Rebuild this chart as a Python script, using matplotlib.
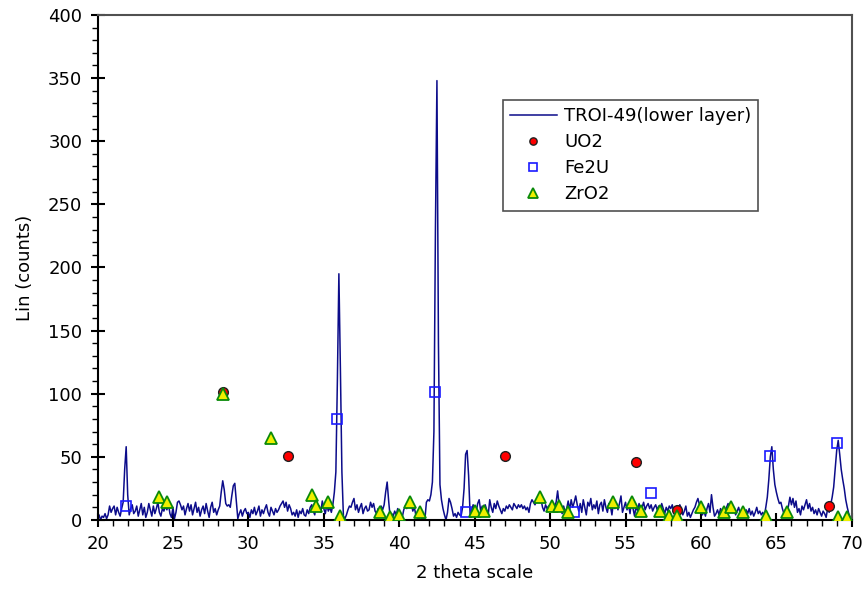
#!/usr/bin/env python3

import numpy as np
import matplotlib

matplotlib.use('Agg')
import matplotlib.pyplot as plt
from matplotlib.ticker import MultipleLocator


OUT_FILE = 'out.png'

# scan: 20.0 .. 70.0 deg in 0.1 deg steps, one row per degree
TWO_THETA_START = 20.0
TWO_THETA_STEP = 0.1
COUNTS = [
    1, 4, 0, 3, 2, 5, 1, 4, 11, 6,            # 20
    9, 11, 4, 10, 6, 3, 9, 14, 40, 58,        # 21
    20, 4, 9, 12, 5, 7, 11, 3, 8, 13,         # 22
    4, 10, 2, 6, 13, 8, 3, 11, 5, 9,          # 23
    14, 6, 3, 9, 7, 11, 8, 13, 5, 2,          # 24
    10, 1, 6, 14, 15, 12, 8, 11, 4, 9,        # 25
    13, 7, 12, 4, 9, 14, 6, 10, 3, 8,         # 26
    11, 5, 13, 7, 2, 10, 14, 6, 9, 4,         # 27
    8, 11, 22, 31, 24, 13, 11, 12, 10, 19,    # 28
    27, 29, 15, 1, 5, 8, 3, 7, 9, 5,          # 29
    6, 2, 8, 5, 10, 4, 7, 11, 3, 8,           # 30
    5, 9, 12, 6, 3, 10, 7, 4, 9, 6,           # 31
    8, 11, 13, 15, 10, 14, 7, 12, 9, 4,       # 32
    6, 3, 8, 2, 7, 5, 9, 4, 3, 8,             # 33
    5, 10, 12, 7, 4, 13, 8, 11, 6, 15,        # 34
    9, 5, 12, 7, 10, 6, 12, 22, 38, 110,      # 35
    195, 120, 38, 3, 1, 4, 8, 11, 10, 14,     # 36
    17, 8, 12, 6, 10, 13, 5, 9, 11, 7,        # 37
    8, 14, 10, 13, 7, 5, 9, 6, 11, 8,         # 38
    12, 22, 30, 15, 2, 5, 3, 7, 4, 9,         # 39
    3, 5, 2, 8, 11, 9, 12, 10, 13, 7,         # 40
    10, 4, 2, 0, 3, 1, 2, 0, 14, 16,          # 41
    15, 20, 30, 70, 230, 348, 140, 28, 16, 9,  # 42
    4, 0, 6, 17, 14, 9, 3, 5, 2, 6,           # 43
    4, 3, 10, 25, 52, 55, 35, 4, 8, 12,       # 44
    9, 6, 13, 16, 7, 11, 5, 12, 8, 4,         # 45
    16, 10, 6, 13, 9, 15, 11, 8, 5, 9,        # 46
    7, 11, 9, 12, 10, 8, 13, 11, 9, 12,       # 47
    10, 12, 9, 11, 8, 10, 6, 13, 16, 14,      # 48
    12, 15, 17, 19, 16, 10, 7, 12, 9, 11,     # 49
    10, 8, 12, 11, 14, 23, 12, 9, 5, 11,      # 50
    6, 9, 15, 8, 16, 10, 14, 19, 12, 7,       # 51
    13, 6, 16, 10, 4, 14, 11, 17, 8, 12,      # 52
    9, 15, 5, 12, 14, 7, 16, 10, 6, 13,       # 53
    11, 4, 14, 9, 12, 8, 13, 19, 6, 10,       # 54
    14, 8, 12, 5, 16, 9, 3, 11, 7, 13,        # 55
    6, 10, 14, 8, 11, 13, 9, 12, 7, 10,       # 56
    12, 8, 11, 6, 13, 9, 5, 10, 7, 11,        # 57
    9, 12, 6, 10, 5, 8, 12, 9, 4, 7,          # 58
    11, 3, 6, 2, 5, 8, 10, 14, 17, 12,        # 59
    8, 4, 7, 3, 9, 13, 6, 20, 10, 3,          # 60
    5, 8, 4, 9, 6, 3, 7, 10, 13, 8,           # 61
    11, 6, 9, 4, 7, 10, 5, 8, 6, 3,           # 62
    8, 5, 9, 4, 7, 3, 6, 10, 5, 7,            # 63
    4, 6, 3, 10, 18, 32, 50, 58, 40, 28,      # 64
    22, 17, 13, 14, 9, 5, 8, 6, 11, 18,       # 65
    12, 17, 10, 15, 6, 9, 4, 11, 8, 12,       # 66
    16, 9, 13, 7, 10, 5, 8, 4, 9, 6,          # 67
    3, 7, 5, 2, 9, 6, 12, 18, 26, 40,         # 68
    55, 63, 52, 40, 32, 25, 16, 10, 5, 2,     # 69
    0,                                        # 70
]

UO2_X = [28.3, 32.6, 47.0, 55.7, 58.4, 68.5]
UO2_Y = [101, 51, 51, 46, 8, 11]

FE2U_X = [21.9, 35.9, 42.4, 44.4, 51.6, 56.7, 64.6, 69.0]
FE2U_Y = [11, 80, 101, 6, 6, 21, 51, 61]

ZRO2_X = [24.1, 24.6, 28.3, 31.5, 34.2, 34.5, 35.3, 36.1, 38.7, 39.4,
          40.0, 40.7, 41.4, 45.0, 45.6, 49.3, 50.1, 50.6, 51.2, 54.2,
          55.4, 56.0, 57.3, 57.9, 58.4, 60.0, 61.5, 62.0, 62.8, 64.3,
          65.7, 69.1, 69.7]
ZRO2_Y = [18, 14, 100, 65, 20, 11, 14, 3, 6, 2,
          4, 14, 6, 7, 7, 18, 11, 11, 6, 14,
          14, 7, 7, 3, 3, 10, 6, 10, 6, 3,
          6, 2, 2]

SERIES_LABEL = 'TROI-49(lower layer)'


def main():
    counts = np.array(COUNTS, dtype=float)
    two_theta = TWO_THETA_START + TWO_THETA_STEP * np.arange(len(counts))

    plt.rcParams['font.family'] = ['DejaVu Sans']

    fig = plt.figure(figsize=(8.63, 5.99), dpi=100)
    ax = fig.add_axes([0.113, 0.132, 0.874, 0.843])

    ax.plot(two_theta, counts, color='#0c0c8a', linewidth=1.1,
            label=SERIES_LABEL, zorder=2)
    ax.plot(UO2_X, UO2_Y, linestyle='none', marker='o', markersize=7,
            markerfacecolor='#ff0000', markeredgecolor='#202020',
            markeredgewidth=1.0, label='UO2', zorder=3)
    ax.plot(FE2U_X, FE2U_Y, linestyle='none', marker='s', markersize=7.5,
            markerfacecolor='none', markeredgecolor='#1a1aff',
            markeredgewidth=1.2, label='Fe2U', zorder=4)
    ax.plot(ZRO2_X, ZRO2_Y, linestyle='none', marker='^', markersize=9,
            markerfacecolor='#eef000', markeredgecolor='#0a8a0a',
            markeredgewidth=1.3, label='ZrO2', zorder=5)

    ax.set_xlim(20, 70)
    ax.set_ylim(0, 400)
    ax.xaxis.set_major_locator(MultipleLocator(5))
    ax.xaxis.set_minor_locator(MultipleLocator(1))
    ax.yaxis.set_major_locator(MultipleLocator(50))
    ax.yaxis.set_minor_locator(MultipleLocator(10))
    ax.tick_params(which='major', direction='inout', length=10, width=1.5,
                   labelsize=13, top=False, right=False, pad=6)
    ax.tick_params(which='minor', direction='out', length=4, width=1.0,
                   top=False, right=False)

    for side in ('left', 'bottom'):
        ax.spines[side].set_linewidth(1.5)
        ax.spines[side].set_color('black')
    for side in ('top', 'right'):
        ax.spines[side].set_linewidth(1.5)
        ax.spines[side].set_color('#505050')

    ax.set_xlabel('2 theta scale', fontsize=13, labelpad=8)
    ax.set_ylabel('Lin (counts)', fontsize=13, labelpad=10)

    legend = ax.legend(loc='upper left', bbox_to_anchor=(0.537, 0.832),
                       borderaxespad=0.0, fontsize=13, fancybox=False,
                       framealpha=1.0, edgecolor='#505050', markerscale=0.75,
                       handlelength=2.6, handletextpad=0.4, borderpad=0.4,
                       labelspacing=0.45)
    legend.get_frame().set_linewidth(1.2)

    fig.savefig(OUT_FILE, dpi=100)
    plt.close(fig)
    return 0


if __name__ == '__main__':
    raise SystemExit(main())
